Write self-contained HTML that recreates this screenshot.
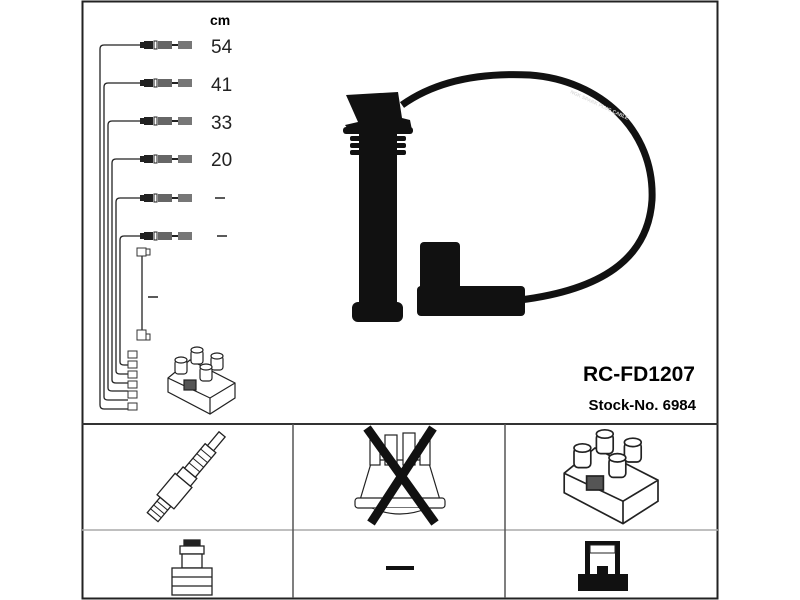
<!DOCTYPE html>
<html><head><style>
body{margin:0;background:#fff;overflow:hidden}
svg{display:block}
text{font-family:"Liberation Sans",sans-serif;}
</style></head><body>
<svg width="800" height="600" viewBox="0 0 800 600">
<rect x="82.5" y="1.5" width="635" height="597" fill="none" stroke="#222" stroke-width="2"/>
<line x1="82" y1="424" x2="718" y2="424" stroke="#333" stroke-width="2"/>
<line x1="82" y1="530" x2="718" y2="530" stroke="#aaa" stroke-width="1.5"/>
<line x1="293" y1="424" x2="293" y2="598" stroke="#555" stroke-width="1.5"/>
<line x1="505" y1="424" x2="505" y2="598" stroke="#555" stroke-width="1.5"/>

<text x="210" y="25" font-size="14" font-weight="bold">cm</text>
<g font-size="19" fill="#222">
<text x="211" y="53">54</text><text x="211" y="91">41</text>
<text x="211" y="129">33</text><text x="211" y="166">20</text>
</g>
<g stroke="#222" stroke-width="1.5">
<line x1="215" y1="198" x2="225" y2="198"/><line x1="217" y1="236" x2="227" y2="236"/>
<line x1="148" y1="297" x2="158" y2="297"/>
</g>
<g fill="none" stroke="#222" stroke-width="1.3">
<path d="M140,45 H104 Q100,45 100,49 V405 Q100,409 104,409 H128"/>
<path d="M140,83 H108 Q104,83 104,87 V397 Q104,400 108,400 H128"/>
<path d="M140,121 H112 Q108,121 108,125 V388 Q108,391 112,391 H128"/>
<path d="M140,159 H116 Q112,159 112,163 V380 Q112,383 116,383 H128"/>
<path d="M140,198 H120 Q116,198 116,202 V371 Q116,374 120,374 H128"/>
<path d="M140,236 H124 Q120,236 120,240 V362 Q120,365 124,365 H128"/>
<line x1="142" y1="255" x2="142" y2="330"/>
</g>
<g fill="#222">
<g id="c"><rect x="140" y="42" width="4" height="6"/><rect x="144" y="41" width="9" height="8"/><rect x="154" y="41" width="3" height="8" fill="#fff" stroke="#222"/><rect x="158" y="41" width="14" height="8" fill="#666"/><rect x="172" y="44" width="6" height="2"/><rect x="178" y="41" width="14" height="8" fill="#777"/></g>
<use href="#c" y="38"/><use href="#c" y="76"/><use href="#c" y="114"/><use href="#c" y="153"/><use href="#c" y="191"/>
</g>
<g fill="#fff" stroke="#333" stroke-width="1">
<rect x="137" y="248" width="9" height="8"/><rect x="146" y="249" width="4" height="6"/>
<rect x="137" y="330" width="9" height="10"/><rect x="146" y="334" width="4" height="6"/>
<rect x="128" y="351" width="9" height="7"/><rect x="128" y="361" width="9" height="7"/><rect x="128" y="371" width="9" height="7"/>
<rect x="128" y="381" width="9" height="7"/><rect x="128" y="391" width="9" height="7"/><rect x="128" y="403" width="9" height="7"/>
</g>
<g id="coil" fill="#fff" stroke="#222" stroke-width="1.2">
<path d="M168,378 L190,360 L235,383 L235,398 L210,414 L168,392 Z"/>
<path d="M168,378 L210,398 L235,383"/><line x1="210" y1="398" x2="210" y2="414"/>
<rect x="175" y="360" width="12" height="14" rx="3"/><ellipse cx="181" cy="360" rx="6" ry="3"/>
<rect x="191" y="350" width="12" height="14" rx="3"/><ellipse cx="197" cy="350" rx="6" ry="3"/>
<rect x="211" y="356" width="12" height="14" rx="3"/><ellipse cx="217" cy="356" rx="6" ry="3"/>
<rect x="200" y="367" width="12" height="14" rx="3"/><ellipse cx="206" cy="367" rx="6" ry="3"/>
<rect x="184" y="380" width="12" height="10" fill="#555"/>
</g>

<path d="M402,105 C430,85 470,72 530,75 C600,80 655,130 652,200 C648,260 600,290 520,300" fill="none" stroke="#111" stroke-width="7"/>
<g fill="#111">
<path d="M346,95 L398,92 L402,118 L410,120 L412,130 L350,132 L345,125 L358,122 Z"/>
<rect x="343" y="127" width="70" height="7" rx="3"/>
<rect x="350" y="136" width="56" height="5" rx="2"/>
<rect x="350" y="143" width="56" height="5" rx="2"/>
<rect x="350" y="150" width="56" height="5" rx="2"/>
<rect x="359" y="130" width="38" height="188"/>
<rect x="352" y="302" width="51" height="20" rx="6"/>
<rect x="420" y="242" width="40" height="60" rx="4"/>
<rect x="417" y="286" width="108" height="30" rx="4"/>
</g>
<g fill="#ddd" font-size="5" font-weight="bold">
<text transform="translate(570,93) rotate(25)">NGK SPARK PLUG CABLE</text>
</g>

<text x="695" y="381" font-size="21" font-weight="bold" text-anchor="end">RC-FD1207</text>
<text x="696" y="410" font-size="15" font-weight="bold" text-anchor="end">Stock-No. 6984</text>

<g transform="translate(188,475) rotate(-50)" fill="#fff" stroke="#222" stroke-width="1.3">
<rect x="-55" y="-7" width="20" height="14"/>
<rect x="-35" y="-11" width="28" height="22"/>
<rect x="-7" y="-9" width="10" height="18"/>
<rect x="3" y="-7" width="32" height="14"/>
<rect x="35" y="-4" width="18" height="8"/>
<g stroke-width="1"><line x1="-50" y1="-7" x2="-50" y2="7"/><line x1="-45" y1="-7" x2="-45" y2="7"/><line x1="-40" y1="-7" x2="-40" y2="7"/>
<line x1="10" y1="-7" x2="10" y2="7"/><line x1="16" y1="-7" x2="16" y2="7"/><line x1="22" y1="-7" x2="22" y2="7"/><line x1="28" y1="-7" x2="28" y2="7"/></g>
</g>
<g fill="#fff" stroke="#222" stroke-width="1.2">
<path d="M360,500 L372,460 L428,460 L440,500 Z"/>
<rect x="355" y="498" width="90" height="10" rx="3"/>
<rect x="385" y="435" width="12" height="30"/><rect x="403" y="433" width="12" height="32"/>
<rect x="370" y="440" width="10" height="25"/><rect x="420" y="440" width="10" height="25"/>
<path d="M372,508 Q400,520 428,508"/>
</g>
<g stroke="#111" stroke-width="9"><line x1="367" y1="428" x2="435" y2="523"/><line x1="371" y1="523" x2="433" y2="428"/></g>
<g transform="translate(329,-56) scale(1.4)">
<use href="#coil"/>
</g>
<g fill="#fff" stroke="#222" stroke-width="1.3">
<rect x="184" y="540" width="16" height="6" fill="#222"/>
<rect x="180" y="546" width="24" height="8"/>
<rect x="182" y="554" width="20" height="14"/>
<rect x="172" y="568" width="40" height="27"/>
<line x1="172" y1="577" x2="212" y2="577"/><line x1="172" y1="586" x2="212" y2="586"/>
</g>
<rect x="386" y="566" width="28" height="4" fill="#111"/>
<g fill="#111">
<rect x="585" y="541" width="35" height="4"/>
<rect x="585" y="541" width="5" height="33"/><rect x="615" y="541" width="5" height="33"/>
<rect x="597" y="566" width="11" height="10"/>
<rect x="578" y="574" width="50" height="17"/>
</g>
<rect x="590" y="545" width="25" height="8" fill="#fff" stroke="#222"/>
</svg>
</body></html>
